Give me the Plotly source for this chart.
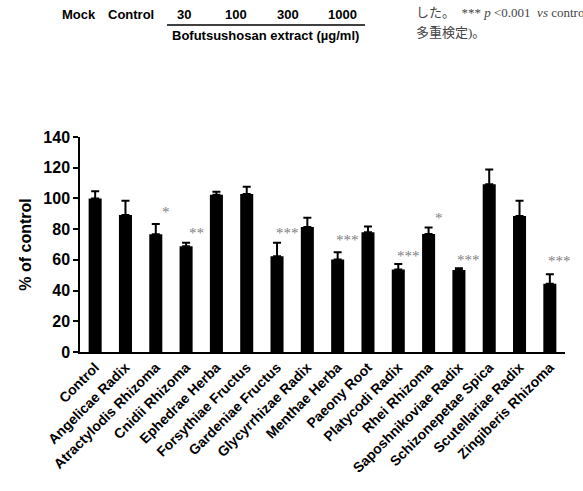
import plotly.graph_objects as go

categories = ["Control", "Angelicae Radix", "Atractylodis Rhizoma", "Cnidii Rhizoma",
              "Ephedrae Herba", "Forsythiae Fructus", "Gardeniae Fructus", "Glycyrrhizae Radix",
              "Menthae Herba", "Paeony Root", "Platycodi Radix", "Rhei Rhizoma",
              "Saposhnikoviae Radix", "Schizonepetae Spica", "Scutellariae Radix", "Zingiberis Rhizoma"]
values = [100, 89.2, 76.6, 68.8, 102.4, 102.9, 62.3, 81.4,
          60.3, 77.9, 53.8, 76.8, 53.4, 109.2, 88.5, 44.5]
errors = [4.6, 9.3, 6.7, 2.4, 2.0, 4.7, 8.9, 6.1,
          4.6, 3.9, 3.5, 4.3, 1.1, 9.7, 10.0, 6.1]
sig_labels = ["", "", "*", "**", "", "", "***", "",
              "***", "", "***", "*", "***", "", "", "***"]
sig_y = [0, 0, 91, 77.5, 0, 0, 77.5, 0, 73, 0, 62.7, 87.5, 60, 0, 0, 59]

top_labels = ["Mock", "Control", "30", "100", "300", "1000"]
top_label_x = [79, 131, 184, 236, 288, 342]
extract_label = "Bofutsushosan extract (µg/ml)"
jp_line1 = "した。&nbsp; *** <i>p</i> &lt;0.001&nbsp; <i>vs</i> control"
jp_line2 = "多重検定)。"

FONT = "Liberation Sans, Arial, sans-serif"
SERIF = "Liberation Serif, Noto Sans CJK JP, serif"

fig = go.Figure()
fig.add_trace(go.Bar(
    x=categories, y=values, width=0.43,
    marker=dict(color="black", line=dict(width=0)),
    error_y=dict(type="data", symmetric=False, array=errors,
                 arrayminus=[0] * len(errors), color="black",
                 thickness=2, width=4),
))

annotations = []
for c, lab, yv in zip(categories, sig_labels, sig_y):
    if lab:
        annotations.append(dict(x=c, y=yv, text=lab, showarrow=False, xshift=10,
                                xanchor="center", yanchor="middle",
                                font=dict(family="Liberation Serif, serif", size=15, color="#808080")))

# plot area pixel mapping
L, R, T, B = 80, 565, 137, 352
def px(xp):
    return (xp - L) / (R - L)
def py(yp):
    return (B - yp) / (B - T)

for lab, xx in zip(top_labels, top_label_x):
    annotations.append(dict(xref="paper", yref="paper", x=px(xx), y=py(15), text="<b>%s</b>" % lab,
                            showarrow=False, xanchor="center", yanchor="middle",
                            font=dict(family=FONT, size=13, color="black")))
annotations.append(dict(xref="paper", yref="paper", x=px(265), y=py(36), text="<b>%s</b>" % extract_label,
                        showarrow=False, xanchor="center", yanchor="middle",
                        font=dict(family=FONT, size=13, color="black")))
annotations.append(dict(xref="paper", yref="paper", x=px(414), y=py(13), text=jp_line1,
                        showarrow=False, xanchor="left", yanchor="middle",
                        font=dict(family=SERIF, size=13, color="#444")))
annotations.append(dict(xref="paper", yref="paper", x=px(414), y=py(33), text=jp_line2,
                        showarrow=False, xanchor="left", yanchor="middle",
                        font=dict(family=SERIF, size=13, color="#444")))
annotations.append(dict(xref="paper", yref="paper", x=px(37), y=py(5), text="<b>0</b>",
                        showarrow=False, xanchor="center", yanchor="bottom",
                        font=dict(family=FONT, size=13, color="black")))

shapes = [dict(type="line", xref="paper", yref="paper", x0=px(167), x1=px(365),
               y0=py(25), y1=py(25), line=dict(color="black", width=1.5))]

fig.update_layout(
    width=583, height=491,
    margin=dict(l=L, r=583 - R, t=T, b=491 - B, pad=0),
    paper_bgcolor="white", plot_bgcolor="white",
    showlegend=False,
    annotations=annotations, shapes=shapes,
    font=dict(family=FONT, color="black"),
    xaxis=dict(showline=True, linecolor="black", linewidth=1.5, ticks="", tickangle=-45,
               tickfont=dict(family=FONT, size=14, color="black"), showgrid=False,
               range=[-0.5, len(categories) - 0.5],
               tickvals=categories, ticktext=["<b>%s</b>" % c for c in categories]),
    yaxis=dict(range=[0, 140], tickvals=[0, 20, 40, 60, 80, 100, 120, 140],
               ticktext=["<b>%d</b>" % v for v in [0, 20, 40, 60, 80, 100, 120, 140]],
               showline=True, linecolor="black", linewidth=1.5, ticks="outside", ticklen=5,
               tickwidth=1.5, tickcolor="black", showgrid=False, zeroline=False,
               tickfont=dict(family=FONT, size=16, color="black"),
               title=dict(text="<b>% of control</b>", font=dict(family=FONT, size=16, color="black"),
                          standoff=8)),
)

fig.write_html("out.html")
